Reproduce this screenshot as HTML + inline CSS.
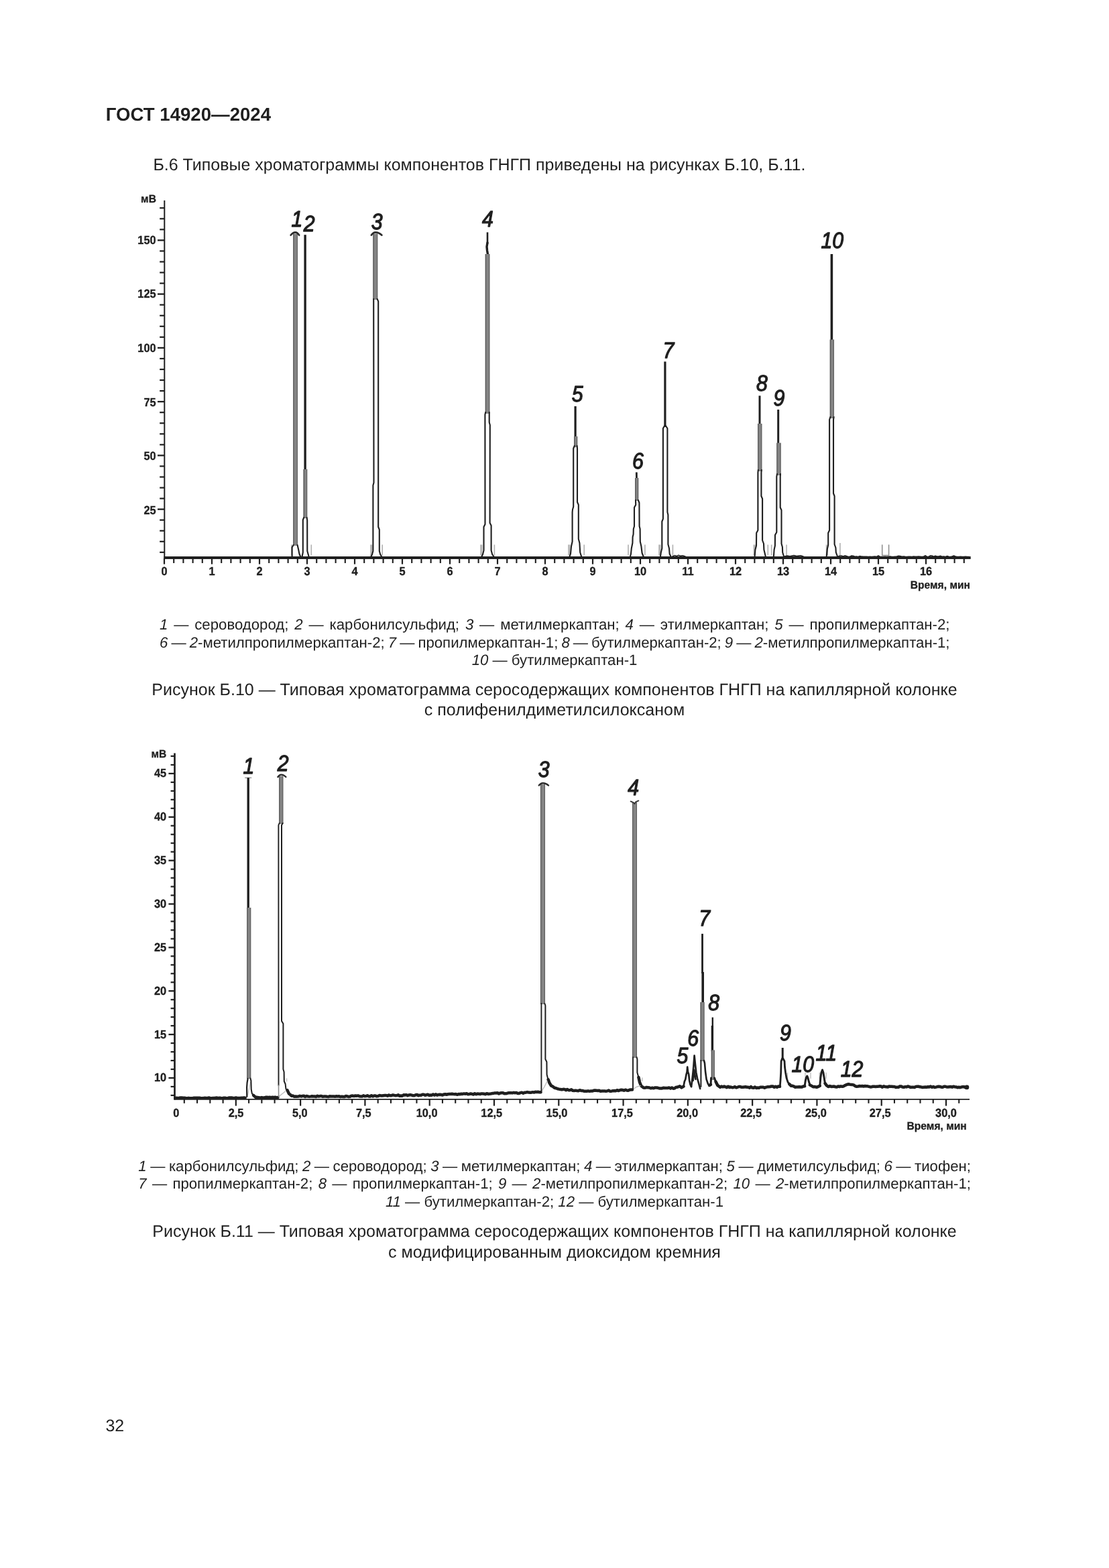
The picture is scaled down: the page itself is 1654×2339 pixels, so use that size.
<!DOCTYPE html>
<html lang="ru">
<head>
<meta charset="utf-8">
<title>ГОСТ 14920—2024</title>
<style>
html,body{margin:0;padding:0;background:#fff;}
body{font-kerning:normal;text-rendering:geometricPrecision;width:1654px;height:2339px;position:relative;overflow:hidden;font-family:"Liberation Sans",sans-serif;color:#1f1f1f;}
.t{position:absolute;white-space:nowrap;line-height:1;margin:0;}
.hd{font-weight:bold;font-size:27.6px;}
.bd{font-size:25px;}
.lg{font-size:22.2px;}
.cp{font-size:25px;}
.c{left:0;width:1654px;text-align:center;}
svg{position:absolute;left:0;top:0;}
svg text{font-family:"Liberation Sans",sans-serif;fill:#1f1f1f;}
.tk{font-size:17.6px;font-weight:bold;stroke:#1f1f1f;stroke-width:0.35px;}
.ax{font-size:16.4px;font-weight:bold;stroke:#1f1f1f;stroke-width:0.3px;}
.pk{font-size:33.6px;font-style:italic;stroke:#1f1f1f;stroke-width:1.25px;stroke-linejoin:round;}
</style>
</head>
<body>
<div class="t hd" style="left:157.8px;top:157.24px;">ГОСТ 14920—2024</div>
<div class="t bd" style="left:228.4px;top:233.54px;">Б.6 Типовые хроматограммы компонентов ГНГП приведены на рисунках Б.10, Б.11.</div>
<svg width="1654" height="2339" viewBox="0 0 1654 2339" role="img" aria-label="Хроматограммы">
<line x1="245.3" y1="299" x2="245.3" y2="833.5" stroke="#1f1f1f" stroke-width="2" stroke-linecap="butt"/>
<line x1="238.2" y1="823.85" x2="245.3" y2="823.85" stroke="#1f1f1f" stroke-width="2.2" stroke-linecap="butt"/>
<line x1="238.2" y1="807.8" x2="245.3" y2="807.8" stroke="#1f1f1f" stroke-width="2.2" stroke-linecap="butt"/>
<line x1="238.2" y1="791.75" x2="245.3" y2="791.75" stroke="#1f1f1f" stroke-width="2.2" stroke-linecap="butt"/>
<line x1="238.2" y1="775.7" x2="245.3" y2="775.7" stroke="#1f1f1f" stroke-width="2.2" stroke-linecap="butt"/>
<line x1="235" y1="759.65" x2="245.3" y2="759.65" stroke="#1f1f1f" stroke-width="2.3" stroke-linecap="butt"/>
<text transform="translate(232.6,766.6) scale(0.93,1)" class="tk" text-anchor="end">25</text>
<line x1="238.2" y1="743.6" x2="245.3" y2="743.6" stroke="#1f1f1f" stroke-width="2.2" stroke-linecap="butt"/>
<line x1="238.2" y1="727.55" x2="245.3" y2="727.55" stroke="#1f1f1f" stroke-width="2.2" stroke-linecap="butt"/>
<line x1="238.2" y1="711.5" x2="245.3" y2="711.5" stroke="#1f1f1f" stroke-width="2.2" stroke-linecap="butt"/>
<line x1="238.2" y1="695.45" x2="245.3" y2="695.45" stroke="#1f1f1f" stroke-width="2.2" stroke-linecap="butt"/>
<line x1="235" y1="679.4" x2="245.3" y2="679.4" stroke="#1f1f1f" stroke-width="2.3" stroke-linecap="butt"/>
<text transform="translate(232.6,686.06) scale(0.93,1)" class="tk" text-anchor="end">50</text>
<line x1="238.2" y1="663.35" x2="245.3" y2="663.35" stroke="#1f1f1f" stroke-width="2.2" stroke-linecap="butt"/>
<line x1="238.2" y1="647.3" x2="245.3" y2="647.3" stroke="#1f1f1f" stroke-width="2.2" stroke-linecap="butt"/>
<line x1="238.2" y1="631.25" x2="245.3" y2="631.25" stroke="#1f1f1f" stroke-width="2.2" stroke-linecap="butt"/>
<line x1="238.2" y1="615.2" x2="245.3" y2="615.2" stroke="#1f1f1f" stroke-width="2.2" stroke-linecap="butt"/>
<line x1="235" y1="599.15" x2="245.3" y2="599.15" stroke="#1f1f1f" stroke-width="2.3" stroke-linecap="butt"/>
<text transform="translate(232.6,605.52) scale(0.93,1)" class="tk" text-anchor="end">75</text>
<line x1="238.2" y1="583.1" x2="245.3" y2="583.1" stroke="#1f1f1f" stroke-width="2.2" stroke-linecap="butt"/>
<line x1="238.2" y1="567.05" x2="245.3" y2="567.05" stroke="#1f1f1f" stroke-width="2.2" stroke-linecap="butt"/>
<line x1="238.2" y1="551" x2="245.3" y2="551" stroke="#1f1f1f" stroke-width="2.2" stroke-linecap="butt"/>
<line x1="238.2" y1="534.95" x2="245.3" y2="534.95" stroke="#1f1f1f" stroke-width="2.2" stroke-linecap="butt"/>
<line x1="235" y1="518.9" x2="245.3" y2="518.9" stroke="#1f1f1f" stroke-width="2.3" stroke-linecap="butt"/>
<text transform="translate(232.6,524.98) scale(0.93,1)" class="tk" text-anchor="end">100</text>
<line x1="238.2" y1="502.85" x2="245.3" y2="502.85" stroke="#1f1f1f" stroke-width="2.2" stroke-linecap="butt"/>
<line x1="238.2" y1="486.8" x2="245.3" y2="486.8" stroke="#1f1f1f" stroke-width="2.2" stroke-linecap="butt"/>
<line x1="238.2" y1="470.75" x2="245.3" y2="470.75" stroke="#1f1f1f" stroke-width="2.2" stroke-linecap="butt"/>
<line x1="238.2" y1="454.7" x2="245.3" y2="454.7" stroke="#1f1f1f" stroke-width="2.2" stroke-linecap="butt"/>
<line x1="235" y1="438.65" x2="245.3" y2="438.65" stroke="#1f1f1f" stroke-width="2.3" stroke-linecap="butt"/>
<text transform="translate(232.6,444.44) scale(0.93,1)" class="tk" text-anchor="end">125</text>
<line x1="238.2" y1="422.6" x2="245.3" y2="422.6" stroke="#1f1f1f" stroke-width="2.2" stroke-linecap="butt"/>
<line x1="238.2" y1="406.55" x2="245.3" y2="406.55" stroke="#1f1f1f" stroke-width="2.2" stroke-linecap="butt"/>
<line x1="238.2" y1="390.5" x2="245.3" y2="390.5" stroke="#1f1f1f" stroke-width="2.2" stroke-linecap="butt"/>
<line x1="238.2" y1="374.45" x2="245.3" y2="374.45" stroke="#1f1f1f" stroke-width="2.2" stroke-linecap="butt"/>
<line x1="235" y1="358.4" x2="245.3" y2="358.4" stroke="#1f1f1f" stroke-width="2.3" stroke-linecap="butt"/>
<text transform="translate(232.6,363.9) scale(0.93,1)" class="tk" text-anchor="end">150</text>
<line x1="238.2" y1="342.35" x2="245.3" y2="342.35" stroke="#1f1f1f" stroke-width="2.2" stroke-linecap="butt"/>
<line x1="238.2" y1="326.3" x2="245.3" y2="326.3" stroke="#1f1f1f" stroke-width="2.2" stroke-linecap="butt"/>
<line x1="238.2" y1="310.25" x2="245.3" y2="310.25" stroke="#1f1f1f" stroke-width="2.2" stroke-linecap="butt"/>
<text transform="translate(221.5,302.2) scale(0.953,1)" class="ax" text-anchor="middle">мВ</text>
<line x1="244.5" y1="832" x2="1447.7" y2="832" stroke="#1f1f1f" stroke-width="4" stroke-linecap="butt"/>
<line x1="245" y1="833" x2="245" y2="841.6" stroke="#1f1f1f" stroke-width="2.2" stroke-linecap="butt"/>
<text transform="translate(245,858.2) scale(0.93,1)" class="tk" text-anchor="middle">0</text>
<line x1="259.2" y1="833" x2="259.2" y2="840" stroke="#1f1f1f" stroke-width="2.1" stroke-linecap="butt"/>
<line x1="273.4" y1="833" x2="273.4" y2="840" stroke="#1f1f1f" stroke-width="2.1" stroke-linecap="butt"/>
<line x1="287.6" y1="833" x2="287.6" y2="840" stroke="#1f1f1f" stroke-width="2.1" stroke-linecap="butt"/>
<line x1="301.8" y1="833" x2="301.8" y2="840" stroke="#1f1f1f" stroke-width="2.1" stroke-linecap="butt"/>
<line x1="316" y1="833" x2="316" y2="841.6" stroke="#1f1f1f" stroke-width="2.2" stroke-linecap="butt"/>
<text transform="translate(316,858.2) scale(0.93,1)" class="tk" text-anchor="middle">1</text>
<line x1="330.2" y1="833" x2="330.2" y2="840" stroke="#1f1f1f" stroke-width="2.1" stroke-linecap="butt"/>
<line x1="344.4" y1="833" x2="344.4" y2="840" stroke="#1f1f1f" stroke-width="2.1" stroke-linecap="butt"/>
<line x1="358.6" y1="833" x2="358.6" y2="840" stroke="#1f1f1f" stroke-width="2.1" stroke-linecap="butt"/>
<line x1="372.8" y1="833" x2="372.8" y2="840" stroke="#1f1f1f" stroke-width="2.1" stroke-linecap="butt"/>
<line x1="387" y1="833" x2="387" y2="841.6" stroke="#1f1f1f" stroke-width="2.2" stroke-linecap="butt"/>
<text transform="translate(387,858.2) scale(0.93,1)" class="tk" text-anchor="middle">2</text>
<line x1="401.2" y1="833" x2="401.2" y2="840" stroke="#1f1f1f" stroke-width="2.1" stroke-linecap="butt"/>
<line x1="415.4" y1="833" x2="415.4" y2="840" stroke="#1f1f1f" stroke-width="2.1" stroke-linecap="butt"/>
<line x1="429.6" y1="833" x2="429.6" y2="840" stroke="#1f1f1f" stroke-width="2.1" stroke-linecap="butt"/>
<line x1="443.8" y1="833" x2="443.8" y2="840" stroke="#1f1f1f" stroke-width="2.1" stroke-linecap="butt"/>
<line x1="458" y1="833" x2="458" y2="841.6" stroke="#1f1f1f" stroke-width="2.2" stroke-linecap="butt"/>
<text transform="translate(458,858.2) scale(0.93,1)" class="tk" text-anchor="middle">3</text>
<line x1="472.2" y1="833" x2="472.2" y2="840" stroke="#1f1f1f" stroke-width="2.1" stroke-linecap="butt"/>
<line x1="486.4" y1="833" x2="486.4" y2="840" stroke="#1f1f1f" stroke-width="2.1" stroke-linecap="butt"/>
<line x1="500.6" y1="833" x2="500.6" y2="840" stroke="#1f1f1f" stroke-width="2.1" stroke-linecap="butt"/>
<line x1="514.8" y1="833" x2="514.8" y2="840" stroke="#1f1f1f" stroke-width="2.1" stroke-linecap="butt"/>
<line x1="529" y1="833" x2="529" y2="841.6" stroke="#1f1f1f" stroke-width="2.2" stroke-linecap="butt"/>
<text transform="translate(529,858.2) scale(0.93,1)" class="tk" text-anchor="middle">4</text>
<line x1="543.2" y1="833" x2="543.2" y2="840" stroke="#1f1f1f" stroke-width="2.1" stroke-linecap="butt"/>
<line x1="557.4" y1="833" x2="557.4" y2="840" stroke="#1f1f1f" stroke-width="2.1" stroke-linecap="butt"/>
<line x1="571.6" y1="833" x2="571.6" y2="840" stroke="#1f1f1f" stroke-width="2.1" stroke-linecap="butt"/>
<line x1="585.8" y1="833" x2="585.8" y2="840" stroke="#1f1f1f" stroke-width="2.1" stroke-linecap="butt"/>
<line x1="600" y1="833" x2="600" y2="841.6" stroke="#1f1f1f" stroke-width="2.2" stroke-linecap="butt"/>
<text transform="translate(600,858.2) scale(0.93,1)" class="tk" text-anchor="middle">5</text>
<line x1="614.2" y1="833" x2="614.2" y2="840" stroke="#1f1f1f" stroke-width="2.1" stroke-linecap="butt"/>
<line x1="628.4" y1="833" x2="628.4" y2="840" stroke="#1f1f1f" stroke-width="2.1" stroke-linecap="butt"/>
<line x1="642.6" y1="833" x2="642.6" y2="840" stroke="#1f1f1f" stroke-width="2.1" stroke-linecap="butt"/>
<line x1="656.8" y1="833" x2="656.8" y2="840" stroke="#1f1f1f" stroke-width="2.1" stroke-linecap="butt"/>
<line x1="671" y1="833" x2="671" y2="841.6" stroke="#1f1f1f" stroke-width="2.2" stroke-linecap="butt"/>
<text transform="translate(671,858.2) scale(0.93,1)" class="tk" text-anchor="middle">6</text>
<line x1="685.2" y1="833" x2="685.2" y2="840" stroke="#1f1f1f" stroke-width="2.1" stroke-linecap="butt"/>
<line x1="699.4" y1="833" x2="699.4" y2="840" stroke="#1f1f1f" stroke-width="2.1" stroke-linecap="butt"/>
<line x1="713.6" y1="833" x2="713.6" y2="840" stroke="#1f1f1f" stroke-width="2.1" stroke-linecap="butt"/>
<line x1="727.8" y1="833" x2="727.8" y2="840" stroke="#1f1f1f" stroke-width="2.1" stroke-linecap="butt"/>
<line x1="742" y1="833" x2="742" y2="841.6" stroke="#1f1f1f" stroke-width="2.2" stroke-linecap="butt"/>
<text transform="translate(742,858.2) scale(0.93,1)" class="tk" text-anchor="middle">7</text>
<line x1="756.2" y1="833" x2="756.2" y2="840" stroke="#1f1f1f" stroke-width="2.1" stroke-linecap="butt"/>
<line x1="770.4" y1="833" x2="770.4" y2="840" stroke="#1f1f1f" stroke-width="2.1" stroke-linecap="butt"/>
<line x1="784.6" y1="833" x2="784.6" y2="840" stroke="#1f1f1f" stroke-width="2.1" stroke-linecap="butt"/>
<line x1="798.8" y1="833" x2="798.8" y2="840" stroke="#1f1f1f" stroke-width="2.1" stroke-linecap="butt"/>
<line x1="813" y1="833" x2="813" y2="841.6" stroke="#1f1f1f" stroke-width="2.2" stroke-linecap="butt"/>
<text transform="translate(813,858.2) scale(0.93,1)" class="tk" text-anchor="middle">8</text>
<line x1="827.2" y1="833" x2="827.2" y2="840" stroke="#1f1f1f" stroke-width="2.1" stroke-linecap="butt"/>
<line x1="841.4" y1="833" x2="841.4" y2="840" stroke="#1f1f1f" stroke-width="2.1" stroke-linecap="butt"/>
<line x1="855.6" y1="833" x2="855.6" y2="840" stroke="#1f1f1f" stroke-width="2.1" stroke-linecap="butt"/>
<line x1="869.8" y1="833" x2="869.8" y2="840" stroke="#1f1f1f" stroke-width="2.1" stroke-linecap="butt"/>
<line x1="884" y1="833" x2="884" y2="841.6" stroke="#1f1f1f" stroke-width="2.2" stroke-linecap="butt"/>
<text transform="translate(884,858.2) scale(0.93,1)" class="tk" text-anchor="middle">9</text>
<line x1="898.2" y1="833" x2="898.2" y2="840" stroke="#1f1f1f" stroke-width="2.1" stroke-linecap="butt"/>
<line x1="912.4" y1="833" x2="912.4" y2="840" stroke="#1f1f1f" stroke-width="2.1" stroke-linecap="butt"/>
<line x1="926.6" y1="833" x2="926.6" y2="840" stroke="#1f1f1f" stroke-width="2.1" stroke-linecap="butt"/>
<line x1="940.8" y1="833" x2="940.8" y2="840" stroke="#1f1f1f" stroke-width="2.1" stroke-linecap="butt"/>
<line x1="955" y1="833" x2="955" y2="841.6" stroke="#1f1f1f" stroke-width="2.2" stroke-linecap="butt"/>
<text transform="translate(955,858.2) scale(0.93,1)" class="tk" text-anchor="middle">10</text>
<line x1="969.2" y1="833" x2="969.2" y2="840" stroke="#1f1f1f" stroke-width="2.1" stroke-linecap="butt"/>
<line x1="983.4" y1="833" x2="983.4" y2="840" stroke="#1f1f1f" stroke-width="2.1" stroke-linecap="butt"/>
<line x1="997.6" y1="833" x2="997.6" y2="840" stroke="#1f1f1f" stroke-width="2.1" stroke-linecap="butt"/>
<line x1="1011.8" y1="833" x2="1011.8" y2="840" stroke="#1f1f1f" stroke-width="2.1" stroke-linecap="butt"/>
<line x1="1026" y1="833" x2="1026" y2="841.6" stroke="#1f1f1f" stroke-width="2.2" stroke-linecap="butt"/>
<text transform="translate(1026,858.2) scale(0.93,1)" class="tk" text-anchor="middle">11</text>
<line x1="1040.2" y1="833" x2="1040.2" y2="840" stroke="#1f1f1f" stroke-width="2.1" stroke-linecap="butt"/>
<line x1="1054.4" y1="833" x2="1054.4" y2="840" stroke="#1f1f1f" stroke-width="2.1" stroke-linecap="butt"/>
<line x1="1068.6" y1="833" x2="1068.6" y2="840" stroke="#1f1f1f" stroke-width="2.1" stroke-linecap="butt"/>
<line x1="1082.8" y1="833" x2="1082.8" y2="840" stroke="#1f1f1f" stroke-width="2.1" stroke-linecap="butt"/>
<line x1="1097" y1="833" x2="1097" y2="841.6" stroke="#1f1f1f" stroke-width="2.2" stroke-linecap="butt"/>
<text transform="translate(1097,858.2) scale(0.93,1)" class="tk" text-anchor="middle">12</text>
<line x1="1111.2" y1="833" x2="1111.2" y2="840" stroke="#1f1f1f" stroke-width="2.1" stroke-linecap="butt"/>
<line x1="1125.4" y1="833" x2="1125.4" y2="840" stroke="#1f1f1f" stroke-width="2.1" stroke-linecap="butt"/>
<line x1="1139.6" y1="833" x2="1139.6" y2="840" stroke="#1f1f1f" stroke-width="2.1" stroke-linecap="butt"/>
<line x1="1153.8" y1="833" x2="1153.8" y2="840" stroke="#1f1f1f" stroke-width="2.1" stroke-linecap="butt"/>
<line x1="1168" y1="833" x2="1168" y2="841.6" stroke="#1f1f1f" stroke-width="2.2" stroke-linecap="butt"/>
<text transform="translate(1168,858.2) scale(0.93,1)" class="tk" text-anchor="middle">13</text>
<line x1="1182.2" y1="833" x2="1182.2" y2="840" stroke="#1f1f1f" stroke-width="2.1" stroke-linecap="butt"/>
<line x1="1196.4" y1="833" x2="1196.4" y2="840" stroke="#1f1f1f" stroke-width="2.1" stroke-linecap="butt"/>
<line x1="1210.6" y1="833" x2="1210.6" y2="840" stroke="#1f1f1f" stroke-width="2.1" stroke-linecap="butt"/>
<line x1="1224.8" y1="833" x2="1224.8" y2="840" stroke="#1f1f1f" stroke-width="2.1" stroke-linecap="butt"/>
<line x1="1239" y1="833" x2="1239" y2="841.6" stroke="#1f1f1f" stroke-width="2.2" stroke-linecap="butt"/>
<text transform="translate(1239,858.2) scale(0.93,1)" class="tk" text-anchor="middle">14</text>
<line x1="1253.2" y1="833" x2="1253.2" y2="840" stroke="#1f1f1f" stroke-width="2.1" stroke-linecap="butt"/>
<line x1="1267.4" y1="833" x2="1267.4" y2="840" stroke="#1f1f1f" stroke-width="2.1" stroke-linecap="butt"/>
<line x1="1281.6" y1="833" x2="1281.6" y2="840" stroke="#1f1f1f" stroke-width="2.1" stroke-linecap="butt"/>
<line x1="1295.8" y1="833" x2="1295.8" y2="840" stroke="#1f1f1f" stroke-width="2.1" stroke-linecap="butt"/>
<line x1="1310" y1="833" x2="1310" y2="841.6" stroke="#1f1f1f" stroke-width="2.2" stroke-linecap="butt"/>
<text transform="translate(1310,858.2) scale(0.93,1)" class="tk" text-anchor="middle">15</text>
<line x1="1324.2" y1="833" x2="1324.2" y2="840" stroke="#1f1f1f" stroke-width="2.1" stroke-linecap="butt"/>
<line x1="1338.4" y1="833" x2="1338.4" y2="840" stroke="#1f1f1f" stroke-width="2.1" stroke-linecap="butt"/>
<line x1="1352.6" y1="833" x2="1352.6" y2="840" stroke="#1f1f1f" stroke-width="2.1" stroke-linecap="butt"/>
<line x1="1366.8" y1="833" x2="1366.8" y2="840" stroke="#1f1f1f" stroke-width="2.1" stroke-linecap="butt"/>
<line x1="1381" y1="833" x2="1381" y2="841.6" stroke="#1f1f1f" stroke-width="2.2" stroke-linecap="butt"/>
<text transform="translate(1381,858.2) scale(0.93,1)" class="tk" text-anchor="middle">16</text>
<line x1="1395.2" y1="833" x2="1395.2" y2="840" stroke="#1f1f1f" stroke-width="2.1" stroke-linecap="butt"/>
<line x1="1409.4" y1="833" x2="1409.4" y2="840" stroke="#1f1f1f" stroke-width="2.1" stroke-linecap="butt"/>
<line x1="1423.6" y1="833" x2="1423.6" y2="840" stroke="#1f1f1f" stroke-width="2.1" stroke-linecap="butt"/>
<line x1="1437.8" y1="833" x2="1437.8" y2="840" stroke="#1f1f1f" stroke-width="2.1" stroke-linecap="butt"/>
<text transform="translate(1447,877.7) scale(0.953,1)" class="ax" text-anchor="end">Время, мин</text>
<line x1="434.8" y1="812.5" x2="434.8" y2="828.5" stroke="#b0b0b0" stroke-width="1.6" stroke-linecap="butt"/>
<line x1="464.3" y1="812.5" x2="464.3" y2="828.5" stroke="#b0b0b0" stroke-width="1.6" stroke-linecap="butt"/>
<line x1="553" y1="812.5" x2="553" y2="828.5" stroke="#b0b0b0" stroke-width="1.6" stroke-linecap="butt"/>
<line x1="554.6" y1="812.5" x2="554.6" y2="828.5" stroke="#b0b0b0" stroke-width="1.6" stroke-linecap="butt"/>
<line x1="570.2" y1="812.5" x2="570.2" y2="828.5" stroke="#b0b0b0" stroke-width="1.6" stroke-linecap="butt"/>
<line x1="717" y1="812.5" x2="717" y2="828.5" stroke="#b0b0b0" stroke-width="1.6" stroke-linecap="butt"/>
<line x1="718.6" y1="812.5" x2="718.6" y2="828.5" stroke="#b0b0b0" stroke-width="1.6" stroke-linecap="butt"/>
<line x1="737.4" y1="812.5" x2="737.4" y2="828.5" stroke="#b0b0b0" stroke-width="1.6" stroke-linecap="butt"/>
<line x1="848" y1="812.5" x2="848" y2="828.5" stroke="#b0b0b0" stroke-width="1.6" stroke-linecap="butt"/>
<line x1="849.6" y1="812.5" x2="849.6" y2="828.5" stroke="#b0b0b0" stroke-width="1.6" stroke-linecap="butt"/>
<line x1="871.2" y1="812.5" x2="871.2" y2="828.5" stroke="#b0b0b0" stroke-width="1.6" stroke-linecap="butt"/>
<line x1="937" y1="812.5" x2="937" y2="828.5" stroke="#b0b0b0" stroke-width="1.6" stroke-linecap="butt"/>
<line x1="961.9" y1="812.5" x2="961.9" y2="828.5" stroke="#b0b0b0" stroke-width="1.6" stroke-linecap="butt"/>
<line x1="983" y1="812.5" x2="983" y2="828.5" stroke="#b0b0b0" stroke-width="1.6" stroke-linecap="butt"/>
<line x1="984.6" y1="812.5" x2="984.6" y2="828.5" stroke="#b0b0b0" stroke-width="1.6" stroke-linecap="butt"/>
<line x1="1003.4" y1="812.5" x2="1003.4" y2="828.5" stroke="#b0b0b0" stroke-width="1.6" stroke-linecap="butt"/>
<line x1="1124.4" y1="812.5" x2="1124.4" y2="828.5" stroke="#b0b0b0" stroke-width="1.6" stroke-linecap="butt"/>
<line x1="1126" y1="812.5" x2="1126" y2="828.5" stroke="#b0b0b0" stroke-width="1.6" stroke-linecap="butt"/>
<line x1="1145.3" y1="812.5" x2="1145.3" y2="828.5" stroke="#b0b0b0" stroke-width="1.6" stroke-linecap="butt"/>
<line x1="1150.7" y1="812.5" x2="1150.7" y2="828.5" stroke="#b0b0b0" stroke-width="1.6" stroke-linecap="butt"/>
<line x1="1173.1" y1="812.5" x2="1173.1" y2="828.5" stroke="#b0b0b0" stroke-width="1.6" stroke-linecap="butt"/>
<line x1="1232.6" y1="812.5" x2="1232.6" y2="828.5" stroke="#b0b0b0" stroke-width="1.6" stroke-linecap="butt"/>
<line x1="1234.2" y1="812.5" x2="1234.2" y2="828.5" stroke="#b0b0b0" stroke-width="1.6" stroke-linecap="butt"/>
<line x1="1252.9" y1="810" x2="1252.9" y2="828.5" stroke="#b0b0b0" stroke-width="1.6" stroke-linecap="butt"/>
<polyline points="1315.7,813 1315.7,828.4 1325.6,828.4 1325.6,813" fill="none" stroke="#8c8c8c" stroke-width="1.5" stroke-linejoin="round" stroke-linecap="round"/>
<polyline points="1250,830.19 1252.5,829.05 1255,828.91 1257.5,830.02 1260,828.82 1262.5,829.47 1265,830.38 1267.5,830.35 1270,828.93 1272.5,829.26 1275,830.19 1277.5,830.11 1280,830.38 1282.5,829.47 1285,830.12 1287.5,830.26 1290,830.35 1292.5,830.18 1295,830.42 1297.5,830.34 1300,830.53 1302.5,830.17 1305,830.07 1307.5,830.45 1310,828.83 1312.5,830.46 1315,830.53 1317.5,830.42 1320,830.35 1322.5,830.5 1325,830.28 1327.5,830.04 1330,830.39 1332.5,830.49 1335,830.23 1337.5,830.01 1340,829.24 1342.5,829.41 1345,830.23 1347.5,830.05 1350,830.33 1352.5,830.49 1355,830.17 1357.5,830.22 1360,830.57 1362.5,830.11 1365,830.14 1367.5,830.35 1370,830 1372.5,830.22 1375,830.57 1377.5,830.31 1380,828.71 1382.5,830.47 1385,830.48 1387.5,828.81 1390,829.03 1392.5,830.1 1395,829.08 1397.5,830.06 1400,830.02 1402.5,829.32 1405,830.21 1407.5,830.07 1410,830.6 1412.5,829.39 1415,830.21 1417.5,830.5 1420,830.01 1422.5,828.97 1425,830.02 1427.5,830.59 1430,830.42 1432.5,830.22 1435,830.46 1437.5,830.47 1440,830.13 1442.5,830.59 1445,830.48" fill="none" stroke="#1f1f1f" stroke-width="1.5" stroke-linejoin="round" stroke-linecap="round"/>
<polyline points="1003,830 1006,828.6 1009,829.6 1012,828.2 1015,829.4 1018,828.8 1022,830" fill="none" stroke="#1f1f1f" stroke-width="1.6" stroke-linejoin="round" stroke-linecap="round"/>
<polyline points="1170,830 1174,829 1178,829.8 1184,828.6 1188,829.6 1194,828.8 1198,830" fill="none" stroke="#1f1f1f" stroke-width="1.6" stroke-linejoin="round" stroke-linecap="round"/>
<rect x="437.3" y="348.5" width="6.6" height="465.5" fill="#848484"/>
<line x1="437.8" y1="348.5" x2="437.8" y2="814" stroke="#505050" stroke-width="1.1" stroke-linecap="butt"/>
<line x1="443.4" y1="348.5" x2="443.4" y2="814" stroke="#5a5a5a" stroke-width="1" stroke-linecap="butt"/>
<path d="M433.6,350.8 Q437.05,346.3 440.5,346.6 Q443.35,346.3 446.2,350.8" fill="none" stroke="#2a2a2a" stroke-width="2.6" stroke-linecap="round" stroke-linejoin="round"/>
<polyline points="437.6,813 435.6,816.5 435.6,830" fill="none" stroke="#1f1f1f" stroke-width="2.1" stroke-linejoin="round" stroke-linecap="round"/>
<polyline points="443.6,813 445.2,820 446.4,826 448,830" fill="none" stroke="#1f1f1f" stroke-width="2.1" stroke-linejoin="round" stroke-linecap="round"/>
<line x1="455.1" y1="350.3" x2="455.1" y2="701" stroke="#1f1f1f" stroke-width="3.4" stroke-linecap="butt"/>
<rect x="452.6" y="700" width="5.6" height="73" fill="#848484"/>
<line x1="453.1" y1="700" x2="453.1" y2="773" stroke="#505050" stroke-width="1.1" stroke-linecap="butt"/>
<line x1="457.7" y1="700" x2="457.7" y2="773" stroke="#5a5a5a" stroke-width="1" stroke-linecap="butt"/>
<polyline points="453.2,772 451.8,775.5 451.8,824 450.6,830" fill="none" stroke="#1f1f1f" stroke-width="2.1" stroke-linejoin="round" stroke-linecap="round"/>
<polyline points="457.6,772 458.2,776 458.3,822 460.4,829.5" fill="none" stroke="#1f1f1f" stroke-width="2.1" stroke-linejoin="round" stroke-linecap="round"/>
<rect x="556.4" y="348.5" width="6.8" height="98.5" fill="#848484"/>
<line x1="556.9" y1="348.5" x2="556.9" y2="447" stroke="#505050" stroke-width="1.1" stroke-linecap="butt"/>
<line x1="562.7" y1="348.5" x2="562.7" y2="447" stroke="#5a5a5a" stroke-width="1" stroke-linecap="butt"/>
<path d="M553.8,350.8 Q556.9,346.3 560,346.6 Q564.7,346.3 569.4,350.8" fill="none" stroke="#2a2a2a" stroke-width="2.6" stroke-linecap="round" stroke-linejoin="round"/>
<polyline points="557.2,446 557.5,720 556.4,724 556.4,822 555,827 553,831" fill="none" stroke="#1f1f1f" stroke-width="2.1" stroke-linejoin="round" stroke-linecap="round"/>
<polyline points="562.6,446 564.2,449.5 564.2,786 565.8,790 565.8,822 567.2,827 569.6,831" fill="none" stroke="#1f1f1f" stroke-width="2.1" stroke-linejoin="round" stroke-linecap="round"/>
<line x1="727" y1="346.5" x2="727" y2="364" stroke="#1f1f1f" stroke-width="2.6" stroke-linecap="butt"/>
<polyline points="727,362 726,368 726.6,374 727.6,380" fill="none" stroke="#1f1f1f" stroke-width="3.4" stroke-linejoin="round" stroke-linecap="round"/>
<rect x="723.8" y="379" width="6.5" height="238" fill="#848484"/>
<line x1="724.3" y1="379" x2="724.3" y2="617" stroke="#505050" stroke-width="1.1" stroke-linecap="butt"/>
<line x1="729.8" y1="379" x2="729.8" y2="617" stroke="#5a5a5a" stroke-width="1" stroke-linecap="butt"/>
<polyline points="724.2,615 723.4,618.5 723.5,782 721.5,786 721.5,821 720,827 718,831" fill="none" stroke="#1f1f1f" stroke-width="2.1" stroke-linejoin="round" stroke-linecap="round"/>
<polyline points="729.7,615 729.7,630 730.8,634 730.6,780 732.6,784 732.6,821 734.2,827 737,831" fill="none" stroke="#1f1f1f" stroke-width="2.1" stroke-linejoin="round" stroke-linecap="round"/>
<line x1="858.1" y1="606" x2="858.1" y2="652" stroke="#1f1f1f" stroke-width="3.2" stroke-linecap="butt"/>
<rect x="856.2" y="651" width="5" height="16" fill="#848484"/>
<line x1="856.7" y1="651" x2="856.7" y2="667" stroke="#505050" stroke-width="1.1" stroke-linecap="butt"/>
<line x1="860.7" y1="651" x2="860.7" y2="667" stroke="#5a5a5a" stroke-width="1" stroke-linecap="butt"/>
<polyline points="856.8,665 855.2,669 855.2,756 854,760 853.6,764 853.6,808 852,815 851,826 849.6,830" fill="none" stroke="#1f1f1f" stroke-width="2.1" stroke-linejoin="round" stroke-linecap="round"/>
<polyline points="860.6,665 861,669 861,749 862.8,753 862.8,804 864.4,810 865.2,824 867.1,830" fill="none" stroke="#1f1f1f" stroke-width="2.1" stroke-linejoin="round" stroke-linecap="round"/>
<line x1="949.3" y1="704.5" x2="949.5" y2="715" stroke="#1f1f1f" stroke-width="2.8" stroke-linecap="butt"/>
<rect x="947.2" y="713" width="5" height="34" fill="#848484"/>
<line x1="947.7" y1="713" x2="947.7" y2="747" stroke="#505050" stroke-width="1.1" stroke-linecap="butt"/>
<line x1="951.7" y1="713" x2="951.7" y2="747" stroke="#5a5a5a" stroke-width="1" stroke-linecap="butt"/>
<polyline points="948,746 948.2,753 946,757 946,785 944.8,789 944.6,797 943.6,801 943.4,810 941.8,818 941,826 940,830" fill="none" stroke="#1f1f1f" stroke-width="2.1" stroke-linejoin="round" stroke-linecap="round"/>
<polyline points="951.8,746 953.4,750 953.6,785 954.6,789 954.8,808 956.4,815 957.6,825 959.6,830" fill="none" stroke="#1f1f1f" stroke-width="2.1" stroke-linejoin="round" stroke-linecap="round"/>
<line x1="991.9" y1="539.4" x2="991.9" y2="637" stroke="#1f1f1f" stroke-width="3.2" stroke-linecap="butt"/>
<polyline points="991.2,635 988.9,639 988.9,774 987.3,778 987.3,818 985.8,824 985,830" fill="none" stroke="#1f1f1f" stroke-width="2.1" stroke-linejoin="round" stroke-linecap="round"/>
<polyline points="992.8,635 995.4,639 995.4,764 996.4,768 996.4,812 998,818 998.6,826 1000.4,830" fill="none" stroke="#1f1f1f" stroke-width="2.1" stroke-linejoin="round" stroke-linecap="round"/>
<line x1="1133" y1="590.3" x2="1133" y2="633" stroke="#1f1f1f" stroke-width="3" stroke-linecap="butt"/>
<rect x="1130.2" y="632" width="6.1" height="71" fill="#848484"/>
<line x1="1130.7" y1="632" x2="1130.7" y2="703" stroke="#505050" stroke-width="1.1" stroke-linecap="butt"/>
<line x1="1135.8" y1="632" x2="1135.8" y2="703" stroke="#5a5a5a" stroke-width="1" stroke-linecap="butt"/>
<polyline points="1130.8,701 1130.4,705 1130.4,791 1128.2,795 1128,814 1126.4,820 1125.6,830" fill="none" stroke="#1f1f1f" stroke-width="2.1" stroke-linejoin="round" stroke-linecap="round"/>
<polyline points="1135.8,701 1135.4,705 1135.4,740 1137.1,744 1137.1,806 1139,811 1139.4,820 1141.8,830" fill="none" stroke="#1f1f1f" stroke-width="2.1" stroke-linejoin="round" stroke-linecap="round"/>
<line x1="1160.7" y1="611" x2="1160.7" y2="662" stroke="#1f1f1f" stroke-width="3" stroke-linecap="butt"/>
<rect x="1158.4" y="660.7" width="6.2" height="48.3" fill="#848484"/>
<line x1="1158.9" y1="660.7" x2="1158.9" y2="709" stroke="#505050" stroke-width="1.1" stroke-linecap="butt"/>
<line x1="1164.1" y1="660.7" x2="1164.1" y2="709" stroke="#5a5a5a" stroke-width="1" stroke-linecap="butt"/>
<polyline points="1159,707 1158.3,711 1158.3,794 1156,798 1155.9,814 1154.6,820 1153.9,830" fill="none" stroke="#1f1f1f" stroke-width="2.1" stroke-linejoin="round" stroke-linecap="round"/>
<polyline points="1164,707 1163.7,711 1163.7,757 1165.5,761 1165.5,811 1166.9,816 1167.2,824 1169,830" fill="none" stroke="#1f1f1f" stroke-width="2.1" stroke-linejoin="round" stroke-linecap="round"/>
<line x1="1240.4" y1="378.9" x2="1240.4" y2="508" stroke="#1f1f1f" stroke-width="3.6" stroke-linecap="butt"/>
<rect x="1237.8" y="506.6" width="6.2" height="117.4" fill="#848484"/>
<line x1="1238.3" y1="506.6" x2="1238.3" y2="624" stroke="#505050" stroke-width="1.1" stroke-linecap="butt"/>
<line x1="1243.5" y1="506.6" x2="1243.5" y2="624" stroke="#5a5a5a" stroke-width="1" stroke-linecap="butt"/>
<polyline points="1238.4,622 1237.1,626 1237.1,791 1235.2,795 1235.2,813 1233.8,819 1232.7,830" fill="none" stroke="#1f1f1f" stroke-width="2.1" stroke-linejoin="round" stroke-linecap="round"/>
<polyline points="1243.6,622 1243,626 1243,736 1244.6,740 1244.6,812 1246.4,817 1246.8,824 1249,830" fill="none" stroke="#1f1f1f" stroke-width="2.1" stroke-linejoin="round" stroke-linecap="round"/>
<text transform="translate(442.8,338) scale(0.9,1)" class="pk" text-anchor="middle">1</text>
<text transform="translate(461.2,344.9) scale(0.9,1)" class="pk" text-anchor="middle">2</text>
<text transform="translate(562.2,341.9) scale(0.9,1)" class="pk" text-anchor="middle">3</text>
<text transform="translate(727.4,338) scale(0.9,1)" class="pk" text-anchor="middle">4</text>
<text transform="translate(861.1,598.5) scale(0.9,1)" class="pk" text-anchor="middle">5</text>
<text transform="translate(951.3,699) scale(0.9,1)" class="pk" text-anchor="middle">6</text>
<text transform="translate(996.8,534.4) scale(0.9,1)" class="pk" text-anchor="middle">7</text>
<text transform="translate(1136.4,583.2) scale(0.9,1)" class="pk" text-anchor="middle">8</text>
<text transform="translate(1162,604.5) scale(0.9,1)" class="pk" text-anchor="middle">9</text>
<text transform="translate(1241.2,370) scale(0.9,1)" class="pk" text-anchor="middle">10</text>
<line x1="260.5" y1="1123.6" x2="260.5" y2="1640.6" stroke="#1f1f1f" stroke-width="2.7" stroke-linecap="butt"/>
<line x1="259.5" y1="1639.8" x2="1446" y2="1639.8" stroke="#1f1f1f" stroke-width="1.8" stroke-linecap="butt"/>
<line x1="254.6" y1="1633.94" x2="260.5" y2="1633.94" stroke="#1f1f1f" stroke-width="2.2" stroke-linecap="butt"/>
<line x1="254.6" y1="1620.96" x2="260.5" y2="1620.96" stroke="#1f1f1f" stroke-width="2.2" stroke-linecap="butt"/>
<line x1="251.4" y1="1607.99" x2="260.5" y2="1607.99" stroke="#1f1f1f" stroke-width="2.3" stroke-linecap="butt"/>
<text transform="translate(248.2,1613.49) scale(0.93,1)" class="tk" text-anchor="end">10</text>
<line x1="254.6" y1="1595.02" x2="260.5" y2="1595.02" stroke="#1f1f1f" stroke-width="2.2" stroke-linecap="butt"/>
<line x1="254.6" y1="1582.04" x2="260.5" y2="1582.04" stroke="#1f1f1f" stroke-width="2.2" stroke-linecap="butt"/>
<line x1="254.6" y1="1569.07" x2="260.5" y2="1569.07" stroke="#1f1f1f" stroke-width="2.2" stroke-linecap="butt"/>
<line x1="254.6" y1="1556.09" x2="260.5" y2="1556.09" stroke="#1f1f1f" stroke-width="2.2" stroke-linecap="butt"/>
<line x1="251.4" y1="1543.12" x2="260.5" y2="1543.12" stroke="#1f1f1f" stroke-width="2.3" stroke-linecap="butt"/>
<text transform="translate(248.2,1548.62) scale(0.93,1)" class="tk" text-anchor="end">15</text>
<line x1="254.6" y1="1530.15" x2="260.5" y2="1530.15" stroke="#1f1f1f" stroke-width="2.2" stroke-linecap="butt"/>
<line x1="254.6" y1="1517.17" x2="260.5" y2="1517.17" stroke="#1f1f1f" stroke-width="2.2" stroke-linecap="butt"/>
<line x1="254.6" y1="1504.2" x2="260.5" y2="1504.2" stroke="#1f1f1f" stroke-width="2.2" stroke-linecap="butt"/>
<line x1="254.6" y1="1491.22" x2="260.5" y2="1491.22" stroke="#1f1f1f" stroke-width="2.2" stroke-linecap="butt"/>
<line x1="251.4" y1="1478.25" x2="260.5" y2="1478.25" stroke="#1f1f1f" stroke-width="2.3" stroke-linecap="butt"/>
<text transform="translate(248.2,1483.75) scale(0.93,1)" class="tk" text-anchor="end">20</text>
<line x1="254.6" y1="1465.28" x2="260.5" y2="1465.28" stroke="#1f1f1f" stroke-width="2.2" stroke-linecap="butt"/>
<line x1="254.6" y1="1452.3" x2="260.5" y2="1452.3" stroke="#1f1f1f" stroke-width="2.2" stroke-linecap="butt"/>
<line x1="254.6" y1="1439.33" x2="260.5" y2="1439.33" stroke="#1f1f1f" stroke-width="2.2" stroke-linecap="butt"/>
<line x1="254.6" y1="1426.35" x2="260.5" y2="1426.35" stroke="#1f1f1f" stroke-width="2.2" stroke-linecap="butt"/>
<line x1="251.4" y1="1413.38" x2="260.5" y2="1413.38" stroke="#1f1f1f" stroke-width="2.3" stroke-linecap="butt"/>
<text transform="translate(248.2,1418.88) scale(0.93,1)" class="tk" text-anchor="end">25</text>
<line x1="254.6" y1="1400.41" x2="260.5" y2="1400.41" stroke="#1f1f1f" stroke-width="2.2" stroke-linecap="butt"/>
<line x1="254.6" y1="1387.43" x2="260.5" y2="1387.43" stroke="#1f1f1f" stroke-width="2.2" stroke-linecap="butt"/>
<line x1="254.6" y1="1374.46" x2="260.5" y2="1374.46" stroke="#1f1f1f" stroke-width="2.2" stroke-linecap="butt"/>
<line x1="254.6" y1="1361.48" x2="260.5" y2="1361.48" stroke="#1f1f1f" stroke-width="2.2" stroke-linecap="butt"/>
<line x1="251.4" y1="1348.51" x2="260.5" y2="1348.51" stroke="#1f1f1f" stroke-width="2.3" stroke-linecap="butt"/>
<text transform="translate(248.2,1354.01) scale(0.93,1)" class="tk" text-anchor="end">30</text>
<line x1="254.6" y1="1335.54" x2="260.5" y2="1335.54" stroke="#1f1f1f" stroke-width="2.2" stroke-linecap="butt"/>
<line x1="254.6" y1="1322.56" x2="260.5" y2="1322.56" stroke="#1f1f1f" stroke-width="2.2" stroke-linecap="butt"/>
<line x1="254.6" y1="1309.59" x2="260.5" y2="1309.59" stroke="#1f1f1f" stroke-width="2.2" stroke-linecap="butt"/>
<line x1="254.6" y1="1296.61" x2="260.5" y2="1296.61" stroke="#1f1f1f" stroke-width="2.2" stroke-linecap="butt"/>
<line x1="251.4" y1="1283.64" x2="260.5" y2="1283.64" stroke="#1f1f1f" stroke-width="2.3" stroke-linecap="butt"/>
<text transform="translate(248.2,1289.14) scale(0.93,1)" class="tk" text-anchor="end">35</text>
<line x1="254.6" y1="1270.67" x2="260.5" y2="1270.67" stroke="#1f1f1f" stroke-width="2.2" stroke-linecap="butt"/>
<line x1="254.6" y1="1257.69" x2="260.5" y2="1257.69" stroke="#1f1f1f" stroke-width="2.2" stroke-linecap="butt"/>
<line x1="254.6" y1="1244.72" x2="260.5" y2="1244.72" stroke="#1f1f1f" stroke-width="2.2" stroke-linecap="butt"/>
<line x1="254.6" y1="1231.74" x2="260.5" y2="1231.74" stroke="#1f1f1f" stroke-width="2.2" stroke-linecap="butt"/>
<line x1="251.4" y1="1218.77" x2="260.5" y2="1218.77" stroke="#1f1f1f" stroke-width="2.3" stroke-linecap="butt"/>
<text transform="translate(248.2,1224.27) scale(0.93,1)" class="tk" text-anchor="end">40</text>
<line x1="254.6" y1="1205.8" x2="260.5" y2="1205.8" stroke="#1f1f1f" stroke-width="2.2" stroke-linecap="butt"/>
<line x1="254.6" y1="1192.82" x2="260.5" y2="1192.82" stroke="#1f1f1f" stroke-width="2.2" stroke-linecap="butt"/>
<line x1="254.6" y1="1179.85" x2="260.5" y2="1179.85" stroke="#1f1f1f" stroke-width="2.2" stroke-linecap="butt"/>
<line x1="254.6" y1="1166.87" x2="260.5" y2="1166.87" stroke="#1f1f1f" stroke-width="2.2" stroke-linecap="butt"/>
<line x1="251.4" y1="1153.9" x2="260.5" y2="1153.9" stroke="#1f1f1f" stroke-width="2.3" stroke-linecap="butt"/>
<text transform="translate(248.2,1159.4) scale(0.93,1)" class="tk" text-anchor="end">45</text>
<line x1="254.6" y1="1140.93" x2="260.5" y2="1140.93" stroke="#1f1f1f" stroke-width="2.2" stroke-linecap="butt"/>
<line x1="254.6" y1="1127.95" x2="260.5" y2="1127.95" stroke="#1f1f1f" stroke-width="2.2" stroke-linecap="butt"/>
<text transform="translate(236.8,1129.8) scale(0.953,1)" class="ax" text-anchor="middle">мВ</text>
<line x1="274.81" y1="1639.8" x2="274.81" y2="1645.8" stroke="#1f1f1f" stroke-width="2.1" stroke-linecap="butt"/>
<line x1="294.06" y1="1639.8" x2="294.06" y2="1645.8" stroke="#1f1f1f" stroke-width="2.1" stroke-linecap="butt"/>
<line x1="313.32" y1="1639.8" x2="313.32" y2="1645.8" stroke="#1f1f1f" stroke-width="2.1" stroke-linecap="butt"/>
<line x1="332.58" y1="1639.8" x2="332.58" y2="1645.8" stroke="#1f1f1f" stroke-width="2.1" stroke-linecap="butt"/>
<line x1="351.84" y1="1639.8" x2="351.84" y2="1649.6" stroke="#1f1f1f" stroke-width="2.2" stroke-linecap="butt"/>
<text transform="translate(352.1,1665.6) scale(0.93,1)" class="tk" text-anchor="middle">2,5</text>
<line x1="371.1" y1="1639.8" x2="371.1" y2="1645.8" stroke="#1f1f1f" stroke-width="2.1" stroke-linecap="butt"/>
<line x1="390.35" y1="1639.8" x2="390.35" y2="1645.8" stroke="#1f1f1f" stroke-width="2.1" stroke-linecap="butt"/>
<line x1="409.61" y1="1639.8" x2="409.61" y2="1645.8" stroke="#1f1f1f" stroke-width="2.1" stroke-linecap="butt"/>
<line x1="428.87" y1="1639.8" x2="428.87" y2="1645.8" stroke="#1f1f1f" stroke-width="2.1" stroke-linecap="butt"/>
<line x1="448.12" y1="1639.8" x2="448.12" y2="1649.6" stroke="#1f1f1f" stroke-width="2.2" stroke-linecap="butt"/>
<text transform="translate(447.3,1665.6) scale(0.93,1)" class="tk" text-anchor="middle">5,0</text>
<line x1="467.38" y1="1639.8" x2="467.38" y2="1645.8" stroke="#1f1f1f" stroke-width="2.1" stroke-linecap="butt"/>
<line x1="486.64" y1="1639.8" x2="486.64" y2="1645.8" stroke="#1f1f1f" stroke-width="2.1" stroke-linecap="butt"/>
<line x1="505.9" y1="1639.8" x2="505.9" y2="1645.8" stroke="#1f1f1f" stroke-width="2.1" stroke-linecap="butt"/>
<line x1="525.15" y1="1639.8" x2="525.15" y2="1645.8" stroke="#1f1f1f" stroke-width="2.1" stroke-linecap="butt"/>
<line x1="544.41" y1="1639.8" x2="544.41" y2="1649.6" stroke="#1f1f1f" stroke-width="2.2" stroke-linecap="butt"/>
<text transform="translate(542.3,1665.6) scale(0.93,1)" class="tk" text-anchor="middle">7,5</text>
<line x1="563.67" y1="1639.8" x2="563.67" y2="1645.8" stroke="#1f1f1f" stroke-width="2.1" stroke-linecap="butt"/>
<line x1="582.93" y1="1639.8" x2="582.93" y2="1645.8" stroke="#1f1f1f" stroke-width="2.1" stroke-linecap="butt"/>
<line x1="602.18" y1="1639.8" x2="602.18" y2="1645.8" stroke="#1f1f1f" stroke-width="2.1" stroke-linecap="butt"/>
<line x1="621.44" y1="1639.8" x2="621.44" y2="1645.8" stroke="#1f1f1f" stroke-width="2.1" stroke-linecap="butt"/>
<line x1="640.7" y1="1639.8" x2="640.7" y2="1649.6" stroke="#1f1f1f" stroke-width="2.2" stroke-linecap="butt"/>
<text transform="translate(636.6,1665.6) scale(0.93,1)" class="tk" text-anchor="middle">10,0</text>
<line x1="659.96" y1="1639.8" x2="659.96" y2="1645.8" stroke="#1f1f1f" stroke-width="2.1" stroke-linecap="butt"/>
<line x1="679.22" y1="1639.8" x2="679.22" y2="1645.8" stroke="#1f1f1f" stroke-width="2.1" stroke-linecap="butt"/>
<line x1="698.47" y1="1639.8" x2="698.47" y2="1645.8" stroke="#1f1f1f" stroke-width="2.1" stroke-linecap="butt"/>
<line x1="717.73" y1="1639.8" x2="717.73" y2="1645.8" stroke="#1f1f1f" stroke-width="2.1" stroke-linecap="butt"/>
<line x1="736.99" y1="1639.8" x2="736.99" y2="1649.6" stroke="#1f1f1f" stroke-width="2.2" stroke-linecap="butt"/>
<text transform="translate(733.3,1665.6) scale(0.93,1)" class="tk" text-anchor="middle">12,5</text>
<line x1="756.25" y1="1639.8" x2="756.25" y2="1645.8" stroke="#1f1f1f" stroke-width="2.1" stroke-linecap="butt"/>
<line x1="775.5" y1="1639.8" x2="775.5" y2="1645.8" stroke="#1f1f1f" stroke-width="2.1" stroke-linecap="butt"/>
<line x1="794.76" y1="1639.8" x2="794.76" y2="1645.8" stroke="#1f1f1f" stroke-width="2.1" stroke-linecap="butt"/>
<line x1="814.02" y1="1639.8" x2="814.02" y2="1645.8" stroke="#1f1f1f" stroke-width="2.1" stroke-linecap="butt"/>
<line x1="833.28" y1="1639.8" x2="833.28" y2="1649.6" stroke="#1f1f1f" stroke-width="2.2" stroke-linecap="butt"/>
<text transform="translate(830.5,1665.6) scale(0.93,1)" class="tk" text-anchor="middle">15,0</text>
<line x1="852.53" y1="1639.8" x2="852.53" y2="1645.8" stroke="#1f1f1f" stroke-width="2.1" stroke-linecap="butt"/>
<line x1="871.79" y1="1639.8" x2="871.79" y2="1645.8" stroke="#1f1f1f" stroke-width="2.1" stroke-linecap="butt"/>
<line x1="891.05" y1="1639.8" x2="891.05" y2="1645.8" stroke="#1f1f1f" stroke-width="2.1" stroke-linecap="butt"/>
<line x1="910.31" y1="1639.8" x2="910.31" y2="1645.8" stroke="#1f1f1f" stroke-width="2.1" stroke-linecap="butt"/>
<line x1="929.56" y1="1639.8" x2="929.56" y2="1649.6" stroke="#1f1f1f" stroke-width="2.2" stroke-linecap="butt"/>
<text transform="translate(928,1665.6) scale(0.93,1)" class="tk" text-anchor="middle">17,5</text>
<line x1="948.82" y1="1639.8" x2="948.82" y2="1645.8" stroke="#1f1f1f" stroke-width="2.1" stroke-linecap="butt"/>
<line x1="968.08" y1="1639.8" x2="968.08" y2="1645.8" stroke="#1f1f1f" stroke-width="2.1" stroke-linecap="butt"/>
<line x1="987.34" y1="1639.8" x2="987.34" y2="1645.8" stroke="#1f1f1f" stroke-width="2.1" stroke-linecap="butt"/>
<line x1="1006.59" y1="1639.8" x2="1006.59" y2="1645.8" stroke="#1f1f1f" stroke-width="2.1" stroke-linecap="butt"/>
<line x1="1025.85" y1="1639.8" x2="1025.85" y2="1649.6" stroke="#1f1f1f" stroke-width="2.2" stroke-linecap="butt"/>
<text transform="translate(1025.1,1665.6) scale(0.93,1)" class="tk" text-anchor="middle">20,0</text>
<line x1="1045.11" y1="1639.8" x2="1045.11" y2="1645.8" stroke="#1f1f1f" stroke-width="2.1" stroke-linecap="butt"/>
<line x1="1064.37" y1="1639.8" x2="1064.37" y2="1645.8" stroke="#1f1f1f" stroke-width="2.1" stroke-linecap="butt"/>
<line x1="1083.62" y1="1639.8" x2="1083.62" y2="1645.8" stroke="#1f1f1f" stroke-width="2.1" stroke-linecap="butt"/>
<line x1="1102.88" y1="1639.8" x2="1102.88" y2="1645.8" stroke="#1f1f1f" stroke-width="2.1" stroke-linecap="butt"/>
<line x1="1122.14" y1="1639.8" x2="1122.14" y2="1649.6" stroke="#1f1f1f" stroke-width="2.2" stroke-linecap="butt"/>
<text transform="translate(1120.1,1665.6) scale(0.93,1)" class="tk" text-anchor="middle">22,5</text>
<line x1="1141.39" y1="1639.8" x2="1141.39" y2="1645.8" stroke="#1f1f1f" stroke-width="2.1" stroke-linecap="butt"/>
<line x1="1160.65" y1="1639.8" x2="1160.65" y2="1645.8" stroke="#1f1f1f" stroke-width="2.1" stroke-linecap="butt"/>
<line x1="1179.91" y1="1639.8" x2="1179.91" y2="1645.8" stroke="#1f1f1f" stroke-width="2.1" stroke-linecap="butt"/>
<line x1="1199.17" y1="1639.8" x2="1199.17" y2="1645.8" stroke="#1f1f1f" stroke-width="2.1" stroke-linecap="butt"/>
<line x1="1218.42" y1="1639.8" x2="1218.42" y2="1649.6" stroke="#1f1f1f" stroke-width="2.2" stroke-linecap="butt"/>
<text transform="translate(1216.9,1665.6) scale(0.93,1)" class="tk" text-anchor="middle">25,0</text>
<line x1="1237.68" y1="1639.8" x2="1237.68" y2="1645.8" stroke="#1f1f1f" stroke-width="2.1" stroke-linecap="butt"/>
<line x1="1256.94" y1="1639.8" x2="1256.94" y2="1645.8" stroke="#1f1f1f" stroke-width="2.1" stroke-linecap="butt"/>
<line x1="1276.2" y1="1639.8" x2="1276.2" y2="1645.8" stroke="#1f1f1f" stroke-width="2.1" stroke-linecap="butt"/>
<line x1="1295.45" y1="1639.8" x2="1295.45" y2="1645.8" stroke="#1f1f1f" stroke-width="2.1" stroke-linecap="butt"/>
<line x1="1314.71" y1="1639.8" x2="1314.71" y2="1649.6" stroke="#1f1f1f" stroke-width="2.2" stroke-linecap="butt"/>
<text transform="translate(1312.7,1665.6) scale(0.93,1)" class="tk" text-anchor="middle">27,5</text>
<line x1="1333.97" y1="1639.8" x2="1333.97" y2="1645.8" stroke="#1f1f1f" stroke-width="2.1" stroke-linecap="butt"/>
<line x1="1353.23" y1="1639.8" x2="1353.23" y2="1645.8" stroke="#1f1f1f" stroke-width="2.1" stroke-linecap="butt"/>
<line x1="1372.48" y1="1639.8" x2="1372.48" y2="1645.8" stroke="#1f1f1f" stroke-width="2.1" stroke-linecap="butt"/>
<line x1="1391.74" y1="1639.8" x2="1391.74" y2="1645.8" stroke="#1f1f1f" stroke-width="2.1" stroke-linecap="butt"/>
<line x1="1411" y1="1639.8" x2="1411" y2="1649.6" stroke="#1f1f1f" stroke-width="2.2" stroke-linecap="butt"/>
<text transform="translate(1411,1665.6) scale(0.93,1)" class="tk" text-anchor="middle">30,0</text>
<line x1="1430.26" y1="1639.8" x2="1430.26" y2="1645.8" stroke="#1f1f1f" stroke-width="2.1" stroke-linecap="butt"/>
<text transform="translate(262.8,1665.6) scale(0.93,1)" class="tk" text-anchor="middle">0</text>
<text transform="translate(1441.8,1685.4) scale(0.953,1)" class="ax" text-anchor="end">Время, мин</text>
<polyline points="261,1637.77 263.02,1637.4 265.04,1637.6 267.06,1637.49 269.08,1637.25 271.1,1637.25 273.12,1637.42 275.13,1637.4 277.15,1637.7 279.17,1637.88 281.19,1637.52 283.21,1637.86 285.23,1637.9 287.25,1637.87 289.27,1637.45 291.29,1637.35 293.31,1637.35 295.33,1637.32 297.35,1637.32 299.37,1637.61 301.38,1637.8 303.4,1637.76 305.42,1637.5 307.44,1637.62 309.46,1637.72 311.48,1637.21 313.5,1637.61 315.52,1637.78 317.54,1637.69 319.56,1637.66 321.58,1637.47 323.6,1637.26 325.62,1637.68 327.63,1637.36 329.65,1637.68 331.67,1637.8 333.69,1637.39 335.71,1637.39 337.73,1637.77 339.75,1637.61 341.77,1637.22 343.79,1637.18 345.81,1637.19 347.83,1637.72 349.85,1637.65 351.87,1637.18 353.88,1637.65 355.9,1637.76 357.92,1637.53 359.94,1637.31 361.96,1637.44 363.98,1637.15 366,1637.4" fill="none" stroke="#1f1f1f" stroke-width="3.8" stroke-linejoin="round" stroke-linecap="round"/>
<polyline points="378,1633.91 381,1636.67 383.5,1636.85 386,1637.23 388.04,1637.62 390.07,1637.11 392.11,1637.53 394.14,1637.47 396.18,1636.84 398.21,1636.87 400.25,1636.89 402.29,1636.83 404.32,1637.16 406.36,1636.82 408.39,1636.96 410.43,1636.66 412.46,1637.42 414.5,1637" fill="none" stroke="#1f1f1f" stroke-width="4.5" stroke-linejoin="round" stroke-linecap="round"/>
<polyline points="428.6,1626.37 431,1631.53 433,1633.03 435,1634.85 437,1634.54 439,1635.8 441,1635.6 443.03,1635.64 445.05,1635.62 447.08,1634.81 449.1,1635.47 451.13,1635.05 453.15,1634.76 455.18,1636.02 457.21,1635.01 459.23,1635.49 461.26,1635.88 463.28,1635.61 465.31,1635.23 467.33,1635.53 469.36,1635.58 471.38,1635.94 473.41,1634.85 475.44,1635.57 477.46,1635.06 479.49,1635.1 481.51,1635.88 483.54,1635.45 485.56,1635.53 487.59,1635.84 489.62,1636.08 491.64,1635.32 493.67,1635.58 495.69,1635.4 497.72,1635.4 499.74,1635.69 501.77,1635.29 503.79,1635.41 505.82,1635.32 507.85,1636.05 509.87,1635.66 511.9,1635.93 513.92,1636.03 515.95,1634.93 517.97,1635.4 520,1636.01 522,1635.81 524,1634.65 526,1634.59 528,1635.07 530,1634.45 532,1634.69 534,1634.38 536,1635.3 538,1635.45 540,1635.6 542,1634.38 544,1635.25 546,1635.12 548,1634.26 550,1635.41 552,1635.51 554,1634.28 556,1635.42 558,1634.5 560,1634.61 562,1635.38 564,1635.1 566,1633.99 568,1634.39 570,1634.49 572,1634.18 574,1633.91 576,1634.08 578,1634.69 580,1633.53 582,1634.35 584,1634.14 586,1633.43 588,1633.9 590,1634.33 592,1634.12 594,1633.37 596,1634.81 598,1634.46 600,1634.72 602,1633.3 604,1633.52 606,1633.13 608,1634.28 610,1633.43 612,1633.17 614,1633.61 616,1634.36 618,1634.18 620,1633.25 622,1633.04 624,1634.24 626,1633.65 628,1633.82 630,1632.81 632,1632.73 634,1633.7 636,1633.25 638,1632.65 640,1634 642,1633.47 644,1633.69 646,1632.5 648,1633.69 650,1632.39 652,1633.62 654,1632.92 656,1632.69 658,1632.99 660,1633.54 662,1632.44 664,1632.18 666,1632.77 668,1632.27 670,1632.02 672,1632.05 674,1631.83 676,1632.03 678,1632.16 680,1632.11 682,1632.79 684,1632 686,1632.29 688,1631.73 690,1631.96 692,1631.39 694,1631.71 696,1631.29 698,1632.4 700,1632.06 702,1631.44 704,1631.85 706,1632.54 708,1631.17 710,1632.27 712,1631.61 714,1631.66 716,1632.16 718,1631.41 720,1631.55 722,1631.8 724,1632.22 726,1631.16 728,1631.9 730,1631.65 732,1631.49 734,1631.08 736,1630.94 738,1630.43 740,1630.51 742.02,1630.36 744.03,1631.38 746.05,1630.55 748.06,1630.34 750.08,1630.16 752.09,1631.32 754.11,1631.31 756.12,1630.94 758.14,1630.26 760.15,1630.14 762.17,1630.17 764.18,1630.38 766.2,1629.84 768.21,1630.25 770.23,1629.9 772.24,1630.97 774.26,1630.93 776.27,1630.19 778.29,1629.65 780.3,1630.75 782.32,1629.65 784.33,1629.67 786.35,1629.05 788.36,1629.6 790.38,1629.7 792.39,1629.69 794.41,1629.15 796.42,1629.58 798.44,1628.73 800.45,1629.09 802.47,1628.75 804.48,1629.19 806.5,1629.3" fill="none" stroke="#1f1f1f" stroke-width="4.5" stroke-linejoin="round" stroke-linecap="round"/>
<polyline points="817.6,1610.27 819.4,1615.24 822,1619.49 824.5,1620.77 827,1622.74 829.33,1623.25 831.67,1624.2 834,1624.65 836,1624.95 838,1625.41 840,1624.82 842,1624.92 844,1626.18 846,1625.04 848,1626.16 850,1626.23 852.09,1625.38 854.18,1626.75 856.27,1626.95 858.36,1626.64 860.45,1626.92 862.55,1627.15 864.64,1626.19 866.73,1626.91 868.82,1626.99 870.91,1627.63 873,1627.69 875.06,1627.73 877.11,1627.36 879.17,1627.86 881.22,1627.54 883.28,1627.56 885.33,1626.83 887.39,1626.53 889.44,1626.7 891.5,1627.08 893.56,1626.68 895.61,1627.86 897.67,1627.43 899.72,1627.55 901.78,1627.56 903.83,1627.66 905.89,1627.36 907.94,1626.59 910,1627.88 912.06,1627.68 914.12,1627.18 916.19,1627.12 918.25,1627.2 920.31,1626.14 922.38,1627.1 924.44,1626.22 926.5,1625.82 928.56,1626.01 930.62,1626.64 932.69,1625.69 934.75,1626.43 936.81,1626.7 938.88,1625.82 940.94,1625.52 943,1625.6" fill="none" stroke="#1f1f1f" stroke-width="4.5" stroke-linejoin="round" stroke-linecap="round"/>
<polyline points="952.4,1606.97 954,1614.29 956.4,1620.03 960,1622.59 962.14,1622.74 964.29,1621.95 966.43,1622.18 968.57,1622.46 970.71,1623.36 972.86,1622.77 975,1623.31 977.08,1622.4 979.17,1622.46 981.25,1622.78 983.33,1623.41 985.42,1623.42 987.5,1623.38 989.58,1622.75 991.67,1623.09 993.75,1622.99 995.83,1622.98 997.92,1622.41 1000,1623.63 1002,1622.47 1004,1623.67 1006,1623.55 1008,1622.03 1011,1621.53 1013.8,1620.31 1016.5,1622.35 1019.5,1620.6" fill="none" stroke="#1f1f1f" stroke-width="4.5" stroke-linejoin="round" stroke-linecap="round"/>
<polyline points="1058,1618.97 1060,1618" fill="none" stroke="#1f1f1f" stroke-width="4.5" stroke-linejoin="round" stroke-linecap="round"/>
<polyline points="1067.5,1613.58 1070.2,1618.88 1074,1621.8 1076,1620.54 1078,1621.27 1080,1620.54 1082,1621.29 1084,1622.12 1086,1620.71 1088,1622.01 1090,1621.51 1092,1622.25 1094,1621.98 1096,1621.19 1098,1622.45 1100,1621.78 1102,1620.97 1104,1620.96 1106,1621.87 1108,1621.82 1110,1621.58 1112,1621.31 1114,1621.71 1116,1621.68 1118,1622.65 1120,1621.17 1122,1622.54 1124,1622.73 1126,1621.46 1128,1622.94 1130,1622.58 1132.06,1622.84 1134.12,1621.65 1136.19,1621.71 1138.25,1621.66 1140.31,1622.66 1142.38,1621.84 1144.44,1621.34 1146.5,1621.37 1148.56,1621.01 1150.62,1620.51 1152.69,1620.52 1154.75,1621.75 1156.81,1620.68 1158.88,1621.76 1160.94,1620.44 1163,1620.8" fill="none" stroke="#1f1f1f" stroke-width="4.5" stroke-linejoin="round" stroke-linecap="round"/>
<polyline points="1177.2,1617.18 1180,1619.82 1182,1619.74 1184,1620.57 1186,1621.67 1188,1621.59 1190,1621.51 1192,1621.24 1194.05,1621.54 1196.1,1621.39 1198.15,1620.49 1200.2,1620.2" fill="none" stroke="#1f1f1f" stroke-width="4.5" stroke-linejoin="round" stroke-linecap="round"/>
<polyline points="1207.8,1618.35 1210.5,1619.88 1213,1621.24 1215.5,1621.05 1218,1621.8 1220.4,1620.83 1222.8,1619.8" fill="none" stroke="#1f1f1f" stroke-width="4.5" stroke-linejoin="round" stroke-linecap="round"/>
<polyline points="1230.6,1616.16 1233,1619.28 1235.33,1621.02 1237.67,1620.07 1240,1620.96 1242,1620.71 1244,1620.59 1246,1621.25 1248,1621.58 1250,1620.39 1252,1620.98 1254,1620.37 1256,1620.74 1258,1620.43 1260.5,1618.97 1263,1617.86 1265.4,1617.23 1267.8,1617.65 1270.4,1617.9 1273,1618.35 1275.33,1620.05 1277.67,1620.79 1280,1620.52 1282,1620.04 1284,1620.15 1286,1620.01 1288,1620.43 1290,1620.05 1292,1620.3 1294,1620.35 1296,1620.87 1298,1621.4 1300,1621.2 1302,1620.68 1304,1620.7 1306,1620.9 1308,1620.68 1310,1620.64 1312,1620.22 1314,1620.58 1316,1621.71 1318,1620.38 1320,1621.01 1322,1621.23 1324,1621.62 1326,1620.61 1328,1620.71 1330,1620.7 1332,1620.96 1334,1621.05 1336,1621.89 1338,1621.74 1340,1621.8 1342,1620.44 1344,1620.46 1346,1621.56 1348,1621.86 1350,1621.19 1352,1621.38 1354,1620.45 1356,1621.08 1358,1621.94 1360,1621.79 1362,1621.84 1364,1622.04 1366,1620.88 1368,1620.67 1370,1620.75 1372,1621.34 1374,1621.6 1376,1622.03 1378,1621.68 1380,1621.57 1382,1621.76 1384,1621.28 1386,1621.44 1388,1620.62 1390,1621.82 1392,1620.95 1394,1622.05 1396,1621.62 1398,1621.08 1400,1620.8 1402,1621.01 1404,1621.64 1406,1621.75 1408,1620.82 1410,1620.76 1412,1621.5 1414,1621.6 1416,1621.3 1418,1621.04 1420,1621.66 1422,1620.72 1424,1621.2 1426,1621.46 1428,1622.27 1430,1621.77 1432,1622.17 1434,1621.52 1436,1621.15 1438,1621.18 1440,1622.33 1442,1621.6" fill="none" stroke="#1f1f1f" stroke-width="4.5" stroke-linejoin="round" stroke-linecap="round"/>
<circle cx="1442" cy="1621.9" r="3.3" fill="#1f1f1f"/>
<polyline points="369.4,1634 371.6,1624 373.6,1614" fill="none" stroke="#c4c4c4" stroke-width="1.2" stroke-linejoin="round" stroke-linecap="round"/>
<polyline points="416.2,1635.4 420.5,1632 425.5,1628" fill="none" stroke="#bdbdbd" stroke-width="1.5" stroke-linejoin="round" stroke-linecap="round"/>
<line x1="427.6" y1="1608.5" x2="427.6" y2="1613.5" stroke="#c0c0c0" stroke-width="1.4" stroke-linecap="butt"/>
<polyline points="808,1627.5 812,1621 816,1613" fill="none" stroke="#bdbdbd" stroke-width="1.4" stroke-linejoin="round" stroke-linecap="round"/>
<polyline points="944.6,1624.6 949,1621.5 955,1619.6" fill="none" stroke="#bdbdbd" stroke-width="1.4" stroke-linejoin="round" stroke-linecap="round"/>
<line x1="957.8" y1="1607.5" x2="957.8" y2="1613" stroke="#c0c0c0" stroke-width="1.4" stroke-linecap="butt"/>
<line x1="1174.5" y1="1600" x2="1174.5" y2="1609" stroke="#c0c0c0" stroke-width="1.4" stroke-linecap="butt"/>
<line x1="1201" y1="1600" x2="1201" y2="1609" stroke="#c0c0c0" stroke-width="1.4" stroke-linecap="butt"/>
<line x1="1209" y1="1600" x2="1209" y2="1609" stroke="#c0c0c0" stroke-width="1.4" stroke-linecap="butt"/>
<line x1="1222.3" y1="1600" x2="1222.3" y2="1609" stroke="#c0c0c0" stroke-width="1.4" stroke-linecap="butt"/>
<line x1="1232.1" y1="1600" x2="1232.1" y2="1609" stroke="#c0c0c0" stroke-width="1.4" stroke-linecap="butt"/>
<line x1="365.2" y1="1160.2" x2="375.2" y2="1160.2" stroke="#888" stroke-width="1.2" stroke-linecap="butt"/>
<line x1="370.2" y1="1160.2" x2="370.2" y2="1356" stroke="#1f1f1f" stroke-width="3.4" stroke-linecap="butt"/>
<rect x="368.3" y="1354" width="5.9" height="255" fill="#848484"/>
<line x1="368.8" y1="1354" x2="368.8" y2="1609" stroke="#505050" stroke-width="1.1" stroke-linecap="butt"/>
<line x1="373.7" y1="1354" x2="373.7" y2="1609" stroke="#5a5a5a" stroke-width="1" stroke-linecap="butt"/>
<polyline points="369.6,1609 368.6,1615 368.1,1622 368.3,1636" fill="none" stroke="#1f1f1f" stroke-width="2.2" stroke-linejoin="round" stroke-linecap="round"/>
<polyline points="373.4,1608.5 374.4,1612 374.7,1625 375.8,1631 378,1634.6" fill="none" stroke="#1f1f1f" stroke-width="2" stroke-linejoin="round" stroke-linecap="round"/>
<rect x="416.2" y="1157.5" width="6.1" height="71.5" fill="#848484"/>
<line x1="416.7" y1="1157.5" x2="416.7" y2="1229" stroke="#505050" stroke-width="1.1" stroke-linecap="butt"/>
<line x1="421.8" y1="1157.5" x2="421.8" y2="1229" stroke="#5a5a5a" stroke-width="1" stroke-linecap="butt"/>
<path d="M414.4,1159 Q416.9,1155.3 419.4,1155.6 Q422.9,1155.3 426.4,1159" fill="none" stroke="#2a2a2a" stroke-width="2.4" stroke-linecap="round" stroke-linejoin="round"/>
<polyline points="416.6,1228 415.4,1231 415.5,1619" fill="none" stroke="#1f1f1f" stroke-width="1.9" stroke-linejoin="round" stroke-linecap="round"/>
<polyline points="415.5,1619 415.6,1636" fill="none" stroke="#8a8a8a" stroke-width="1.6" stroke-linejoin="round" stroke-linecap="round"/>
<polyline points="421.6,1228 420,1231 420,1523 422.4,1527 422.4,1595 423.6,1599 423.8,1613 425.6,1617 426.4,1624 428.6,1628" fill="none" stroke="#1f1f1f" stroke-width="2" stroke-linejoin="round" stroke-linecap="round"/>
<rect x="806.1" y="1170" width="6.9" height="328" fill="#848484"/>
<line x1="806.6" y1="1170" x2="806.6" y2="1498" stroke="#505050" stroke-width="1.1" stroke-linecap="butt"/>
<line x1="812.5" y1="1170" x2="812.5" y2="1498" stroke="#5a5a5a" stroke-width="1" stroke-linecap="butt"/>
<path d="M803.8,1171.6 Q806.7,1167.9 809.6,1168.2 Q813.8,1167.9 818,1171.6" fill="none" stroke="#2a2a2a" stroke-width="2.4" stroke-linecap="round" stroke-linejoin="round"/>
<polyline points="807.4,1497 807.4,1628" fill="none" stroke="#1f1f1f" stroke-width="1.9" stroke-linejoin="round" stroke-linecap="round"/>
<polyline points="812.4,1497 813.4,1500 813.4,1580 815.4,1584 815.6,1603 817.6,1611" fill="none" stroke="#1f1f1f" stroke-width="2" stroke-linejoin="round" stroke-linecap="round"/>
<rect x="943.2" y="1197" width="6.8" height="381" fill="#848484"/>
<line x1="943.7" y1="1197" x2="943.7" y2="1578" stroke="#505050" stroke-width="1.1" stroke-linecap="butt"/>
<line x1="949.5" y1="1197" x2="949.5" y2="1578" stroke="#5a5a5a" stroke-width="1" stroke-linecap="butt"/>
<path d="M940.6,1195.4 L945,1197.4 L946.6,1199 L948,1196.4 L952.4,1194.4" fill="none" stroke="#333" stroke-width="1.8" stroke-linecap="round" stroke-linejoin="round"/>
<polyline points="944,1577 944,1625" fill="none" stroke="#1f1f1f" stroke-width="1.9" stroke-linejoin="round" stroke-linecap="round"/>
<polyline points="949.6,1577 950.4,1580 950.4,1600 952.4,1607" fill="none" stroke="#1f1f1f" stroke-width="2" stroke-linejoin="round" stroke-linecap="round"/>
<polyline points="1019.5,1620.6 1020.8,1613.4 1022.3,1610 1023.6,1602.5 1024.6,1599 1025.2,1591.6 1026,1599 1027.2,1602.5 1028.2,1612 1029.6,1618 1031,1621" fill="none" stroke="#1f1f1f" stroke-width="2.7" stroke-linejoin="round" stroke-linecap="round"/>
<polyline points="1031,1621 1032.2,1612 1033.4,1601.5 1034.5,1589.5 1035.6,1574.6 1036.9,1587.5 1038.3,1600 1040,1608.5 1042.2,1616.5 1044.2,1624" fill="none" stroke="#1f1f1f" stroke-width="2.7" stroke-linejoin="round" stroke-linecap="round"/>
<polyline points="1033.6,1612 1035.4,1596 1037.4,1610" fill="none" stroke="#1f1f1f" stroke-width="2.6" stroke-linejoin="round" stroke-linecap="round"/>
<line x1="1047.5" y1="1392.9" x2="1047.5" y2="1452" stroke="#1f1f1f" stroke-width="2.8" stroke-linecap="butt"/>
<line x1="1048.2" y1="1450" x2="1048.2" y2="1496" stroke="#1f1f1f" stroke-width="3.6" stroke-linecap="butt"/>
<rect x="1044.6" y="1495" width="5.9" height="88" fill="#848484"/>
<line x1="1045.1" y1="1495" x2="1045.1" y2="1583" stroke="#505050" stroke-width="1.1" stroke-linecap="butt"/>
<line x1="1050" y1="1495" x2="1050" y2="1583" stroke="#5a5a5a" stroke-width="1" stroke-linecap="butt"/>
<polyline points="1045.4,1582 1045.4,1621" fill="none" stroke="#1f1f1f" stroke-width="2" stroke-linejoin="round" stroke-linecap="round"/>
<polyline points="1050,1582 1051,1586 1052,1598 1053.6,1610 1056,1617 1058,1619" fill="none" stroke="#1f1f1f" stroke-width="2.6" stroke-linejoin="round" stroke-linecap="round"/>
<line x1="1062.8" y1="1517.6" x2="1062.8" y2="1532" stroke="#1f1f1f" stroke-width="2.4" stroke-linecap="butt"/>
<line x1="1062.4" y1="1530" x2="1062.4" y2="1568" stroke="#1f1f1f" stroke-width="3.4" stroke-linecap="butt"/>
<rect x="1060.8" y="1566.5" width="5" height="44.5" fill="#848484"/>
<line x1="1061.3" y1="1566.5" x2="1061.3" y2="1611" stroke="#505050" stroke-width="1.1" stroke-linecap="butt"/>
<line x1="1065.3" y1="1566.5" x2="1065.3" y2="1611" stroke="#5a5a5a" stroke-width="1" stroke-linecap="butt"/>
<polyline points="1060.6,1608 1060,1618" fill="none" stroke="#1f1f1f" stroke-width="3" stroke-linejoin="round" stroke-linecap="round"/>
<polyline points="1065.6,1608 1067.5,1614" fill="none" stroke="#1f1f1f" stroke-width="3" stroke-linejoin="round" stroke-linecap="round"/>
<line x1="1167.2" y1="1563" x2="1167.2" y2="1581" stroke="#1f1f1f" stroke-width="3" stroke-linecap="butt"/>
<polyline points="1166.6,1579 1165.1,1583 1164.7,1600 1164.1,1610 1163.4,1619.5" fill="none" stroke="#1f1f1f" stroke-width="2.8" stroke-linejoin="round" stroke-linecap="round"/>
<polyline points="1167.8,1579 1170,1583 1170.5,1592 1171.6,1600 1173,1608 1175,1614 1177.2,1617.6" fill="none" stroke="#1f1f1f" stroke-width="2.8" stroke-linejoin="round" stroke-linecap="round"/>
<polyline points="1200.2,1619.6 1201.3,1612 1202.6,1607 1203.8,1605.2 1205,1608 1206.2,1613 1207.8,1618" fill="none" stroke="#1f1f1f" stroke-width="3" stroke-linejoin="round" stroke-linecap="round"/>
<polyline points="1222.8,1619.6 1223.8,1608 1225,1600 1226.5,1596 1227.9,1600 1229.2,1608 1230.6,1616.5" fill="none" stroke="#1f1f1f" stroke-width="3" stroke-linejoin="round" stroke-linecap="round"/>
<text transform="translate(371,1153.7) scale(0.9,1)" class="pk" text-anchor="middle">1</text>
<text transform="translate(422.2,1150) scale(0.9,1)" class="pk" text-anchor="middle">2</text>
<text transform="translate(811.2,1159.2) scale(0.9,1)" class="pk" text-anchor="middle">3</text>
<text transform="translate(944.6,1186) scale(0.9,1)" class="pk" text-anchor="middle">4</text>
<text transform="translate(1018,1585.7) scale(0.9,1)" class="pk" text-anchor="middle">5</text>
<text transform="translate(1033.6,1559.8) scale(0.9,1)" class="pk" text-anchor="middle">6</text>
<text transform="translate(1050.6,1381.3) scale(0.9,1)" class="pk" text-anchor="middle">7</text>
<text transform="translate(1064.6,1506.9) scale(0.9,1)" class="pk" text-anchor="middle">8</text>
<text transform="translate(1171.4,1551.8) scale(0.9,1)" class="pk" text-anchor="middle">9</text>
<text transform="translate(1197.2,1599) scale(0.9,1)" class="pk" text-anchor="middle">10</text>
<text transform="translate(1232.3,1582) scale(0.9,1)" class="pk" text-anchor="middle">11</text>
<text transform="translate(1270.6,1606.3) scale(0.9,1)" class="pk" text-anchor="middle">12</text>
</svg>
<div class="t lg" style="left:238px;top:920.71px;word-spacing:2.71px;"><i>1</i> — сероводород; <i>2</i> — карбонилсульфид; <i>3</i> — метилмеркаптан; <i>4</i> — этилмеркаптан; <i>5</i> — пропилмеркаптан-2;</div>
<div class="t lg" style="left:238px;top:947.61px;word-spacing:-1.1px;"><i>6</i> — <i>2</i>-метилпропилмеркаптан-2; <i>7</i> — пропилмеркаптан-1; <i>8</i> — бутилмеркаптан-2; <i>9</i> — <i>2</i>-метилпропилмеркаптан-1;</div>
<div class="t lg c" style="top:973.81px;"><i>10</i> — бутилмеркаптан-1</div>
<div class="t lg" style="left:206.3px;top:1728.81px;word-spacing:-0.62px;"><i>1</i> — карбонилсульфид; <i>2</i> — сероводород; <i>3</i> — метилмеркаптан; <i>4</i> — этилмеркаптан; <i>5</i> — диметилсульфид; <i>6</i> — тиофен;</div>
<div class="t lg" style="left:206.3px;top:1755.21px;word-spacing:2.13px;"><i>7</i> — пропилмеркаптан-2; <i>8</i> — пропилмеркаптан-1; <i>9</i> — <i>2</i>-метилпропилмеркаптан-2; <i>10</i> — <i>2</i>-метилпропилмеркаптан-1;</div>
<div class="t lg c" style="top:1781.81px;"><i>11</i> — бутилмеркаптан-2; <i>12</i> — бутилмеркаптан-1</div>
<div class="t cp c" style="top:1017.24px;">Рисунок Б.10 — Типовая хроматограмма серосодержащих компонентов ГНГП на капиллярной колонке</div>
<div class="t cp c" style="top:1047.44px;">с полифенилдиметилсилоксаном</div>
<div class="t cp c" style="top:1825.14px;">Рисунок Б.11 — Типовая хроматограмма серосодержащих компонентов ГНГП на капиллярной колонке</div>
<div class="t cp c" style="top:1856.44px;">с модифицированным диоксидом кремния</div>
<div class="t bd" style="left:157.4px;top:2115.34px;">32</div>
</body>
</html>
